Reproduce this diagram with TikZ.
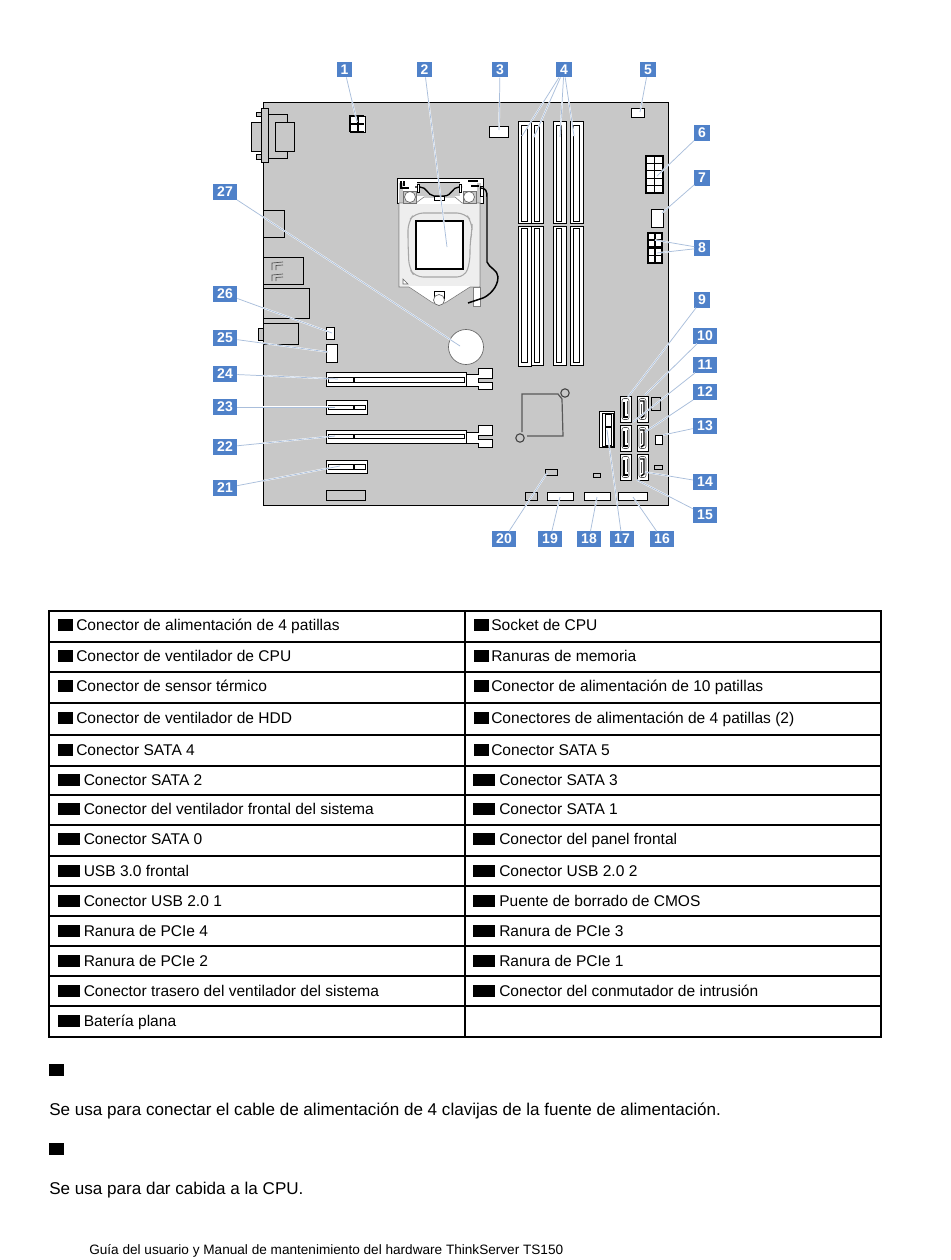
\documentclass[tikz,border=0pt]{standalone}
\usepackage{fontspec}
\setmainfont{Liberation Sans}
\definecolor{board}{HTML}{C8C8C8}
\definecolor{badge}{HTML}{4F81C9}
\definecolor{leaderc}{HTML}{A9BEDB}
\tikzset{
 boardbox/.style={draw=black,line width=0.75pt,fill=board},
 partw/.style={draw=black,line width=0.65pt,fill=white},
 partg/.style={draw=black,line width=0.65pt,fill=board},
 thickw/.style={draw=black,line width=1.2pt,fill=white},
 leader/.style={draw=leaderc,line width=0.55pt,preaction={draw=white,line width=1.2pt}},
 bdg/.style={fill=badge,text=white,inner sep=0pt,minimum height=11.5pt,font=\fontsize{10.5pt}{10.5pt}\selectfont\bfseries},
 bs/.style={bdg,minimum width=11.5pt},
 bd/.style={bdg,minimum width=18pt},
 rule/.style={draw=black,line width=0.85pt},
 blk/.style={fill=black,inner sep=0pt,minimum height=9pt},
 blks/.style={blk,minimum width=11pt},
 blkd/.style={blk,minimum width=16.5pt},
 txt/.style={anchor=base west,inner sep=0pt,font=\fontsize{11.65pt}{13pt}\selectfont},
 para/.style={txt,font=\fontsize{12.8pt}{14pt}\selectfont},
 foottxt/.style={txt,font=\fontsize{10.2pt}{12pt}\selectfont},
}
\newcommand{\rbox}[5][partw]{\draw[#1] (#2,#3) rectangle (#4,#5);}
\newcommand{\dimm}[6]{% x0 x1 ix0 ix1 ybot
 \draw[partw] (#1,121) rectangle (#2,223);
 \draw[partw] (#1,226) rectangle (#2,#5);
 \draw[partw] (#3,125) rectangle (#4,221);
 \draw[partw] (#3,228) rectangle (#4,#6);
}
\newcommand{\pcie}[6]{% xend y0 y1 iy0 iy1 xdiv
 \draw[partw] (326,#2) rectangle (#1,#3);
 \draw[partw] (328,#4) rectangle (#1-2,#5);
 \draw[line width=1.4pt] (#6,#4) -- (#6,#5);
}
\newcommand{\tailp}[6]{% box top, box bottom, arm1 top, arm1 bottom, arm2 top, arm2 bottom
 \draw[partw] (466,#1) -- (478,#1) -- (478,#3) -- (492,#3) -- (492,#4) -- (478,#4) -- (478,#5) -- (492,#5) -- (492,#6) -- (478,#6) -- (478,#2) -- (466,#2) -- cycle;
}
\newcommand{\satabase}[2]{%
 \draw[partw] (#1,#2) rectangle (#1+11,#2+26);
 \draw[draw=black!70,line width=0.4pt,rounded corners=1.5pt] (#1+2,#2+2.5) rectangle (#1+9,#2+23.5);
}
\newcommand{\sataa}[2]{% left column
 \satabase{#1}{#2}
 \draw[black,line width=1.1pt] (#1+4,#2+6) -- (#1+4,#2+21) -- (#1+8,#2+21);
 \draw[black!70,line width=0.4pt] (#1+7,#2+5) -- (#1+7,#2+18);
}
\newcommand{\satab}[2]{% right column
 \satabase{#1}{#2}
 \draw[black,line width=1.1pt] (#1+3,#2+5) -- (#1+7,#2+5) -- (#1+7,#2+20) -- (#1+4,#2+22);
 \draw[black!70,line width=0.4pt] (#1+4,#2+8) -- (#1+4,#2+19);
}
\begin{document}
\begin{tikzpicture}[x=0.75pt,y=-0.75pt]
\useasboundingbox (0,0) rectangle (950,1260);
\fill[white] (0,0) rectangle (950,1260);
% board
\draw[boardbox] (263,102) rectangle (668,505);
% VGA
\rbox[partg]{268}{114}{287}{158}
\rbox[partg]{275}{122}{294}{151}
\rbox[partg]{251}{122}{261}{151}
\rbox[partg]{256}{112}{261}{116}
\rbox[partg]{256}{154}{261}{159}
\rbox[partg]{261}{108}{268}{162}
% rear ports
\rbox[partg]{263}{210}{284}{237}
\rbox[partg]{263}{257}{303}{284}
\draw[line width=0.5pt,draw=black!70] (283,262) -- (272,263) -- (272,270) (283,265) -- (276,265.5) -- (276,270) (283,274) -- (272,275) -- (272,281) (283,277) -- (276,277.5) -- (276,281);
\rbox[partg]{263}{288}{309}{318}
\rbox[partg]{263}{323}{298}{344}
\rbox[partg]{258}{328}{263}{340}
% 4-pin
\draw[partw] (350,116) rectangle (365,132);
\draw[black,line width=1.3pt] (350,132) -- (350,116) -- (364,116) (350,124) -- (364,124) (358,116) -- (358,132) (350,132) -- (364,132);
% connectors 3, 5
\rbox{489}{126}{508}{137}
\rbox{631}{108}{644}{117}
% DIMM
\dimm{518}{531}{521}{527}{366}{362}
\dimm{531}{543}{534}{539}{365}{362}
\dimm{553}{566}{556}{561}{365}{362}
\dimm{570}{583}{573}{579}{365}{362}
% power 10-pin
\draw[thickw] (646,156) rectangle (663,193);
\draw[black,line width=0.9pt] (654.5,156) -- (654.5,193) (646,163.4) -- (663,163.4) (646,170.8) -- (663,170.8) (646,178.2) -- (663,178.2) (646,185.6) -- (663,185.6);
\rbox{651}{209}{663}{227}
\draw[thickw] (648,233) rectangle (662,247);
\draw[thickw] (648,248) rectangle (662,263);
\draw[black,line width=1.1pt] (655,233) -- (655,247) (648,240) -- (662,240) (655,248) -- (655,263) (648,255.5) -- (662,255.5);
% CPU socket frame
\draw[partw] (397,178) -- (483,178) -- (483,203) -- (397,203) -- cycle;
\fill[board] (417,182) rectangle (460,196);
\draw[black,line width=0.65pt] (417,182) -- (460,182);
\fill[board] (399,183) rectangle (403,203);
\fill[board] (477,183) rectangle (481,203);
\draw[black,line width=1.1pt] (401,181) -- (401,188) -- (409,188) (404,181) -- (404,186) (468,181) -- (478,181) (471,186) -- (479,186);
% plate
\draw[draw=black!55,fill=white,line width=0.4pt] (399,203) -- (416,203) -- (424,197) -- (455,197) -- (462,203) -- (480,203) -- (480,287) -- (470,287) -- (445,303) -- (433,303) -- (409,287) -- (399,287) -- cycle;
\fill[board!30] (400,204) rectangle (479,286);
\draw[draw=black!35,rounded corners=6pt,line width=0.8pt] (415,213) -- (465,213) -- (472,222) -- (472,232) -- (470,242) -- (470,262) -- (465,277) -- (415,277) -- (409,268) -- (408,242) -- (408,222) -- cycle;
\draw[partw,line width=0.9pt] (416,221) rectangle (463,269);
% retention circles
\draw[black!55,fill=board,line width=0.4pt] (403,191) rectangle (416,203);
\draw[black!55,fill=board,line width=0.4pt] (463,191) rectangle (476,203);
\draw[black!60,line width=0.5pt,fill=white] (410,197) circle (5.5);
\draw[black!60,line width=0.5pt,fill=white] (469,197) circle (5.5);
\draw[black,line width=0.7pt,fill=white] (434,291) rectangle (444,298);
\draw[black!60,line width=0.5pt,fill=white] (439,300) circle (5.5);
\draw[black!60,fill=white,line width=0.4pt] (403,279) -- (403,284) -- (408,284) -- cycle;
\draw[black!50,fill=white,line width=0.4pt] (473,287) rectangle (480,306);
% wires
\draw[black,line width=1pt] (415,187) -- (420,187) .. controls (427,187) and (427,195) .. (434,196) -- (444,196) .. controls (452,196) and (452,187) .. (459,187) -- (462,187);
\draw[partw,line width=0.6pt] (434,196) rectangle (444,200);
\draw[partw,line width=0.6pt] (417,184) rectangle (419,192);
\draw[partw,line width=0.6pt] (459,184) rectangle (461,192);
\draw[partw,line width=0.6pt] (480,186) rectangle (483,196);
\draw[black,line width=1.1pt] (480,188) .. controls (486,188) and (487,191) .. (487,197) -- (487,262) .. controls (489,268) and (498,270) .. (498,277) .. controls (498,288) and (488,296) .. (483,298) -- (468,303);
% battery
\draw[draw=black!60,fill=white,line width=0.5pt] (466,347) circle (17.5);
% small headers
\rbox{326}{327}{334}{339}
\rbox{326}{344}{337}{362}
% pcie
\pcie{466}{372}{386}{377}{382}{354}
\pcie{367}{400}{414}{405}{409}{354}
\pcie{466}{430}{443}{434}{438}{354}
\pcie{367}{460}{473}{464}{469}{354}
\tailp{374}{386}{368}{378}{382}{389}
\tailp{432}{443}{425}{435}{439}{447}
\rbox[partg]{326}{490}{365}{500}
% chip
\draw[draw=black!65,line width=0.9pt] (522,432) -- (522,394) -- (558,394) -- (562,399) -- (563,436) -- (527,436);
\draw[draw=black!75,line width=0.8pt] (565,393) circle (4.2);
\draw[draw=black!75,line width=0.8pt] (520,438) circle (4.2);
% SATA
\sataa{620}{396}\satab{637}{396}
\sataa{620}{425}\satab{637}{425}
\sataa{620}{454}\satab{637}{454}
\rbox[partg]{651}{397}{660}{410}
\rbox{655}{435}{662}{444}
\rbox[partg]{654}{465}{662}{469}
\rbox[partg]{593}{473}{600}{477}
\rbox[partg]{545}{469}{557}{475}
\rbox[partg]{525}{492}{537}{500}
\rbox{547}{492}{573}{500}
\rbox{584}{492}{610}{500}
\rbox{618}{492}{647}{500}
% 17
\draw[partw] (599,411) rectangle (614,447);
\draw[partw,line width=0.5pt] (602,413) rectangle (613,446);
\draw[partw,line width=0.5pt] (605,414) rectangle (611,445);
\draw[black,line width=1.6pt] (605,427) -- (611,427);
% badges
\foreach \n/\x/\y/\s in {1/344.5/69.5/bs,2/424.5/69.5/bs,3/500/69.5/bs,4/564/69.5/bs,5/648/69.5/bs,6/702/133/bs,7/702/178/bs,8/702/248/bs,9/702/300/bs,10/705/336/bd,11/705/365/bd,12/705/392/bd,13/705/426/bd,14/705/482/bd,15/705/515/bd,16/662/539/bd,17/622/539/bd,18/589/539/bd,19/550/539/bd,20/504/539/bd,21/225/488/bd,22/225/447/bd,23/225/407/bd,24/225/374/bd,25/225/338/bd,26/225/294/bd,27/225/192/bd}
 {\node[\s] (b\n) at (\x,\y) {\n};}
% leaders
\foreach \b/\e/\x/\y in {1/a/357/122,2/b/447/247,3/c/499/130,4/d/522/136,4/e/534/137,4/f/560/137,4/g/574/136,5/h/640/112,6/i/657/176,7/j/662/213,8/k/655/240,8/l/657/253,9/m/628/397,10/n/645/395,11/o/633/422,12/p/645/432,13/q/663/435,14/r/645/472,15/s/637/480,16/t/633/497,17/u/607/430,18/v/597/497,19/w/560/497,20/x/547/473,21/y/340/466,22/z/335/436,23/aa/335/407,24/ab/338/379,25/ac/328/352,26/ad/332/333,27/ae/460/346}
 {\coordinate (e\e) at (\x,\y); \draw[leader] (b\b) -- (e\e);}
% table
\draw[rule] (49,611) rectangle (881,1037);
\draw[rule] (465,611) -- (465,1037);
\foreach \y in {642,672,703,735,766,795,825,856,886,916,946,976,1006}
 {\draw[rule] (49,\y) -- (881,\y);}
\foreach \n/\y/\tl/\tr in {
 1/625/{Conector de alimentación de 4 patillas}/{Socket de CPU},
 2/656/{Conector de ventilador de CPU}/{Ranuras de memoria},
 3/686/{Conector de sensor térmico}/{Conector de alimentación de 10 patillas},
 4/718/{Conector de ventilador de HDD}/{Conectores de alimentación de 4 patillas (2)},
 5/750/{Conector SATA 4}/{Conector SATA 5}}
 {\node[blks] (sl\n) at (65.5,\y) {}; \node[txt] (tl\n) at (76,\y+5.5) {\tl};
  \node[blks] (sr\n) at (481.5,\y) {}; \node[txt] (tr\n) at (491,\y+5.5) {\tr};}
\foreach \n/\y/\tl/\tr in {
 6/780/{Conector SATA 2}/{Conector SATA 3},
 7/809/{Conector del ventilador frontal del sistema}/{Conector SATA 1},
 8/839/{Conector SATA 0}/{Conector del panel frontal},
 9/871/{USB 3.0 frontal}/{Conector USB 2.0 2},
 10/901/{Conector USB 2.0 1}/{Puente de borrado de CMOS},
 11/931/{Ranura de PCIe 4}/{Ranura de PCIe 3},
 12/961/{Ranura de PCIe 2}/{Ranura de PCIe 1},
 13/991/{Conector trasero del ventilador del sistema}/{Conector del conmutador de intrusión}}
 {\node[blkd] (sl\n) at (69,\y) {}; \node[txt] (tl\n) at (83.5,\y+5.5) {\tl};
  \node[blkd] (sr\n) at (484,\y) {}; \node[txt] (tr\n) at (499,\y+5.5) {\tr};}
\node[blkd] (sl14) at (69,1021) {}; \node[txt] (tl14) at (83.5,1026.5) {Batería plana};
% paragraphs
\node[blks] (p1s) at (56.5,1070) {};
\node[para] (p1) at (49,1115) {Se usa para conectar el cable de alimentación de 4 clavijas de la fuente de alimentación.};
\node[blks] (p2s) at (56.5,1149) {};
\node[para] (p2) at (49,1194) {Se usa para dar cabida a la CPU.};
\node[foottxt] (foot) at (89,1254) {Guía del usuario y Manual de mantenimiento del hardware ThinkServer TS150};
\end{tikzpicture}
\end{document}
